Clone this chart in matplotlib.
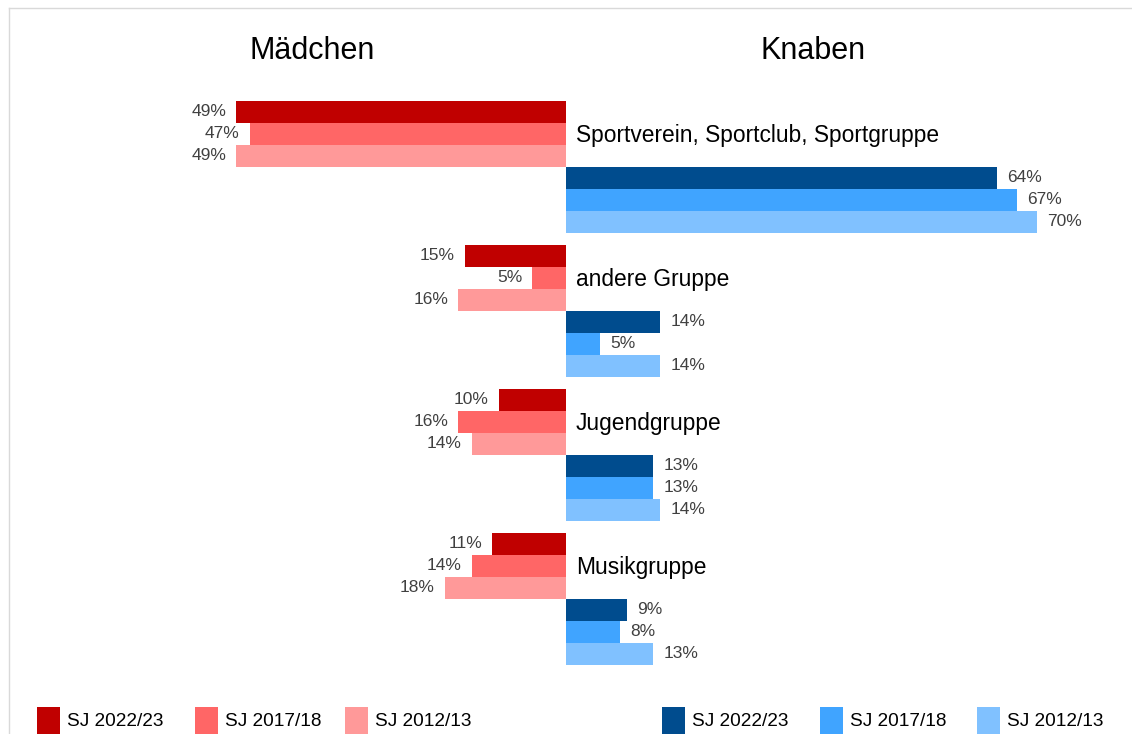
import matplotlib
matplotlib.use("Agg")
from matplotlib import pyplot as plt
from matplotlib.lines import Line2D
from matplotlib.patches import Rectangle

plt.rcParams['font.family'] = ['Liberation Sans', 'DejaVu Sans']

categories = ["Sportverein, Sportclub, Sportgruppe", "andere Gruppe",
              "Jugendgruppe", "Musikgruppe"]
years = ["SJ 2022/23", "SJ 2017/18", "SJ 2012/13"]

# percent values per year (rows) and category (columns)
maedchen = [[49, 15, 10, 11],
            [47, 5, 16, 14],
            [49, 16, 14, 18]]
knaben = [[64, 14, 13, 9],
          [67, 5, 13, 8],
          [70, 14, 14, 13]]

red_cols = ["#C00000", "#FF6666", "#FF9999"]
blue_cols = ["#004C8E", "#40A4FF", "#80C1FF"]
label_col = "#404040"

W, H = 1132, 734
px_per_pct = 6.73
x0_px = 566
group_px = 144
bar_px = 22
first_center_px = 167  # pixel of first group's center (between girls and boys)

fig = plt.figure(figsize=(W / 100, H / 100), dpi=100)
ax = fig.add_axes([0, 0, 1, 1])
ax.set_xlim(-x0_px / px_per_pct, (W - x0_px) / px_per_pct)
ax.set_ylim((H - first_center_px) / group_px, -first_center_px / group_px)
ax.axis("off")

bh = bar_px / group_px
off_l = 10 / px_per_pct
off_r = 10.5 / px_per_pct
dy = -1 / group_px

for i, cat in enumerate(categories):
    for j in range(3):
        y = i + (-2.5 + j) * bh
        v = maedchen[j][i]
        ax.barh(y, -v, height=bh, color=red_cols[j], linewidth=0)
        ax.text(-v - off_l, y + dy, f"{v}%", ha="right", va="center",
                fontsize=12.5, color=label_col)
    for j in range(3):
        y = i + (0.5 + j) * bh
        v = knaben[j][i]
        ax.barh(y, v, height=bh, color=blue_cols[j], linewidth=0)
        ax.text(v + off_r, y + dy, f"{v}%", ha="left", va="center",
                fontsize=12.5, color=label_col)
    ax.text(10 / px_per_pct, i - 1.5 * bh + 1.5 / group_px, cat, ha="left",
            va="center", fontsize=16.4, color="black")

fig.text(312 / W, 1 - 51 / H, "Mädchen", ha="center", va="center", fontsize=22)
fig.text(813 / W, 1 - 51 / H, "Knaben", ha="center", va="center", fontsize=22)

# frame lines
fig.add_artist(Line2D([8.5 / W, 8.5 / W], [0, 1 - 7.5 / H], color="#D9D9D9", lw=1))
fig.add_artist(Line2D([8.5 / W, 1], [1 - 7.5 / H, 1 - 7.5 / H], color="#D9D9D9", lw=1))

# legends
leg_x = [37, 195, 345, 662, 820, 977]
leg_cols = red_cols + blue_cols
for k, lx in enumerate(leg_x):
    fig.add_artist(Rectangle((lx / W, 0), 23 / W, 27 / H, color=leg_cols[k],
                             transform=fig.transFigure, lw=0))
    fig.text((lx + 30) / W, 1 - 721 / H, years[k % 3], ha="left", va="center",
             fontsize=13.7)

fig.savefig("out.png", dpi=100)
